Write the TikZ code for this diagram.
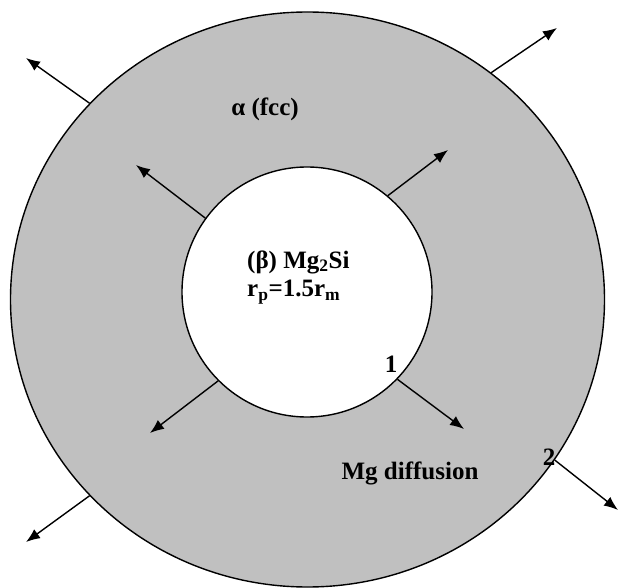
\documentclass[tikz,border=0pt]{standalone}
\usepackage{fontspec}
\setmainfont{Liberation Serif}
\usetikzlibrary{arrows.meta,shapes.geometric}
\definecolor{matrixgray}{RGB}{192,192,192}

\begin{document}
\begin{tikzpicture}[x=1pt,y=-1pt,
    flow/.style={-{Latex[length=14pt,width=11pt]}, line width=1.4pt},
    lbl/.style={font=\fontsize{25}{30}\selectfont\bfseries, inner sep=0pt}]
    \useasboundingbox (0,0) rectangle (619,588);

    % alpha matrix and beta particle
    \node[ellipse, draw, line width=1.4pt, fill=matrixgray, inner sep=0pt,
          minimum width=594pt, minimum height=575pt] (matrix) at (307.5,299.5) {};
    \node[circle, draw, line width=1.4pt, fill=white, inner sep=0pt,
          minimum size=250pt] (particle) at (307,292) {};

    % arrow tips
    \coordinate (tl) at (26,58);
    \coordinate (tr) at (557,28);
    \coordinate (bl) at (26,542);
    \coordinate (br) at (618,510);
    \coordinate (itl) at (136,165);
    \coordinate (itr) at (448,150);
    \coordinate (ibl) at (150,433);
    \coordinate (ibr) at (464,429);

    \draw[flow] (matrix.138) -- (tl);
    \draw[flow] (matrix.51) -- (tr);
    \draw[flow] (matrix.222) -- (bl);
    \draw[flow] (matrix.-33) -- (br);
    \draw[flow] (particle.144) -- (itl);
    \draw[flow] (particle.50) -- (itr);
    \draw[flow] (particle.225) -- (ibl);
    \draw[flow] (particle.-44) -- (ibr);

    % labels
    \node[lbl] (alpha) at (265,109) {α (fcc)};
    \node[lbl, anchor=west] (beta) at (247,262) {(β) Mg\textsubscript{2}Si};
    \node[lbl, anchor=west] (ratio) at (247,292) {r\textsubscript{p}=1.5r\textsubscript{m}};
    \node[lbl] (one) at (391,364) {1};
    \node[lbl] (two) at (549,457) {2};
    \node[lbl] (diff) at (410,473) {Mg diffusion};
\end{tikzpicture}
\end{document}
